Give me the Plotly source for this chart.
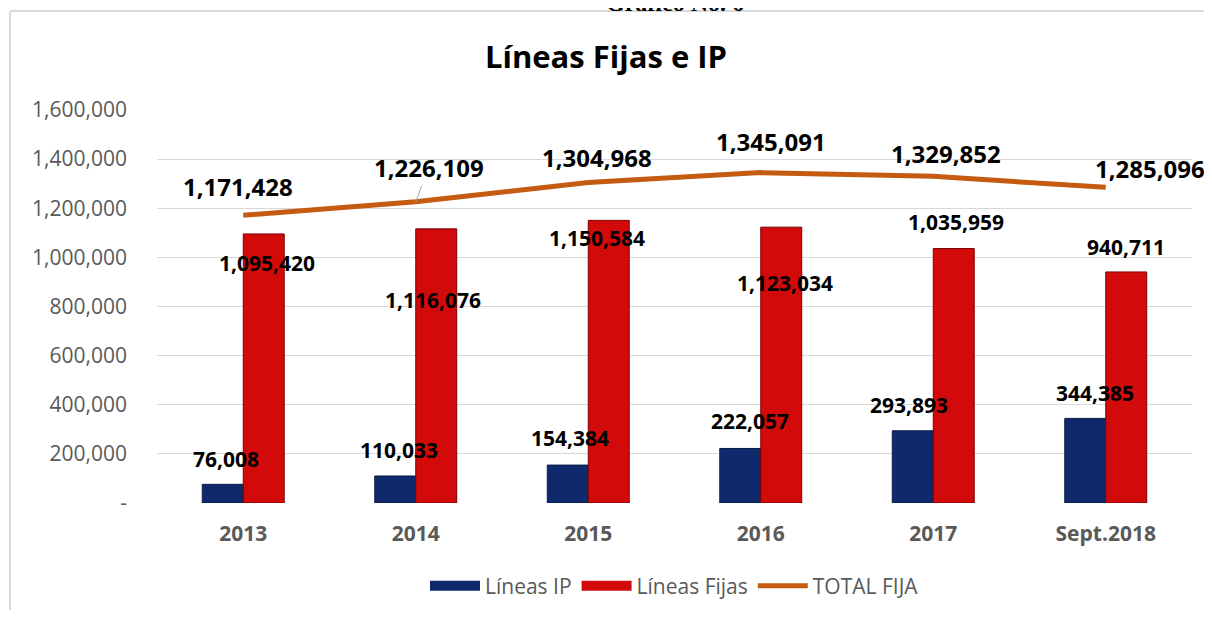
import plotly.graph_objects as go

categories = ["2013", "2014", "2015", "2016", "2017", "Sept.2018"]
lineas_ip = [76008, 110033, 154384, 222057, 293893, 344385]
lineas_fijas = [1095420, 1116076, 1150584, 1123034, 1035959, 940711]
total_fija = [1171428, 1226109, 1304968, 1345091, 1329852, 1285096]

y_tickvals = [0, 200000, 400000, 600000, 800000, 1000000, 1200000, 1400000, 1600000]
y_ticktext = ["-", "200,000", "400,000", "600,000", "800,000", "1,000,000", "1,200,000", "1,400,000", "1,600,000"]

# label pixel offsets (style only)
ip_off = [(3, -25), (4, -26), (2, -27), (10, -27), (-4, -26), (10, -25)]
fijas_off = [(3, 29), (-3, 71), (-12, 18), (4, 56), (2, -27), (0, -25)]
total_off = [(-5, -29), (13, -34), (9, -25), (10, -31), (13, -23), (44, -19)]

FONT = "Open Sans"
IP_COLOR = "#10296D"
FIJAS_COLOR = "#D20A0A"
TOTAL_COLOR = "#C55A11"

fig = go.Figure()
fig.add_trace(go.Bar(name="Líneas IP", x=categories, y=lineas_ip, legendgroup="ip", showlegend=False,
                     marker=dict(color=IP_COLOR, line=dict(color="#081A45", width=1))))
fig.add_trace(go.Bar(name="Líneas Fijas", x=categories, y=lineas_fijas, legendgroup="fijas", showlegend=False,
                     marker=dict(color=FIJAS_COLOR, line=dict(color="#7A0000", width=1))))
fig.add_trace(go.Scatter(name="TOTAL FIJA", x=categories, y=total_fija, mode="lines", legendgroup="total",
                         showlegend=False, line=dict(color=TOTAL_COLOR, width=5)))
# legend entries (wide swatches as in the reference)
fig.add_trace(go.Scatter(name="Líneas IP", x=[None], y=[None], mode="lines", legendgroup="ip",
                         line=dict(color=IP_COLOR, width=15)))
fig.add_trace(go.Scatter(name="Líneas Fijas", x=[None], y=[None], mode="lines", legendgroup="fijas",
                         line=dict(color=FIJAS_COLOR, width=15)))
fig.add_trace(go.Scatter(name="TOTAL FIJA", x=[None], y=[None], mode="lines", legendgroup="total",
                         line=dict(color=TOTAL_COLOR, width=5)))

ann = []
for i, c in enumerate(categories):
    ann.append(dict(x=i, y=lineas_ip[i], xref="x", yref="y", text=f"{lineas_ip[i]:,}",
                    showarrow=True, arrowcolor="rgba(0,0,0,0)", ax=ip_off[i][0] - 20.5, ay=ip_off[i][1],
                    font=dict(family=FONT, size=21, color="black", weight="bold")))
    ann.append(dict(x=i, y=lineas_fijas[i], xref="x", yref="y", text=f"{lineas_fijas[i]:,}",
                    showarrow=True, arrowcolor="rgba(0,0,0,0)", ax=fijas_off[i][0] + 20.5, ay=fijas_off[i][1],
                    font=dict(family=FONT, size=21, color="black", weight="bold")))
    ann.append(dict(x=i, y=total_fija[i], xref="x", yref="y", text=f"{total_fija[i]:,}",
                    showarrow=True, arrowhead=0, arrowwidth=1,
                    arrowcolor="#A6A6A6" if i == 1 else "rgba(0,0,0,0)",
                    ax=total_off[i][0], ay=total_off[i][1],
                    font=dict(family=FONT, size=24, color="black", weight="bold")))

ann.append(dict(x=0.5, y=1.235, xref="paper", yref="paper", text="Gráfico No. 6", showarrow=False,
                yanchor="bottom", font=dict(family="Liberation Serif", size=24, color="black", weight="bold")))

frame = dict(type="line", xref="paper", yref="paper", line=dict(color="#D9D9D9", width=2), layer="below")
fig.update_layout(
    width=1196, height=602,
    margin=dict(l=149, r=12, t=102, b=107, autoexpand=False),
    paper_bgcolor="white", plot_bgcolor="white",
    title=dict(text="Líneas Fijas e IP", x=0.5, xanchor="center", y=0.9186, yanchor="middle",
               font=dict(family=FONT, size=31, color="black", weight="bold")),
    barmode="group", bargap=0.525, bargroupgap=0,
    annotations=ann,
    legend=dict(orientation="h", x=0.5, xanchor="center", yref="container", y=0.0399, yanchor="middle",
                font=dict(family=FONT, size=21, color="#595959"), itemwidth=50, tracegroupgap=0),
    shapes=[dict(frame, x0=-0.142, x1=1.2, y0=1.252, y1=1.252),
            dict(frame, x0=-0.142, x1=-0.142, y0=-0.5, y1=1.252)],
    showlegend=True,
)
fig.update_xaxes(type="category", range=[-0.5, 5.5], showgrid=False, showline=False, ticks="",
                 ticklabelstandoff=16, automargin=False,
                 tickfont=dict(family=FONT, size=21, color="#595959", weight="bold"))
fig.update_yaxes(range=[0, 1600000], tickvals=y_tickvals, ticktext=y_ticktext,
                 showgrid=True, gridcolor="#D9D9D9", gridwidth=1, zeroline=False, showline=False,
                 ticks="", ticklabelstandoff=29, automargin=False,
                 tickfont=dict(family=FONT, size=21, color="#595959"))

fig.write_html("out.html")
